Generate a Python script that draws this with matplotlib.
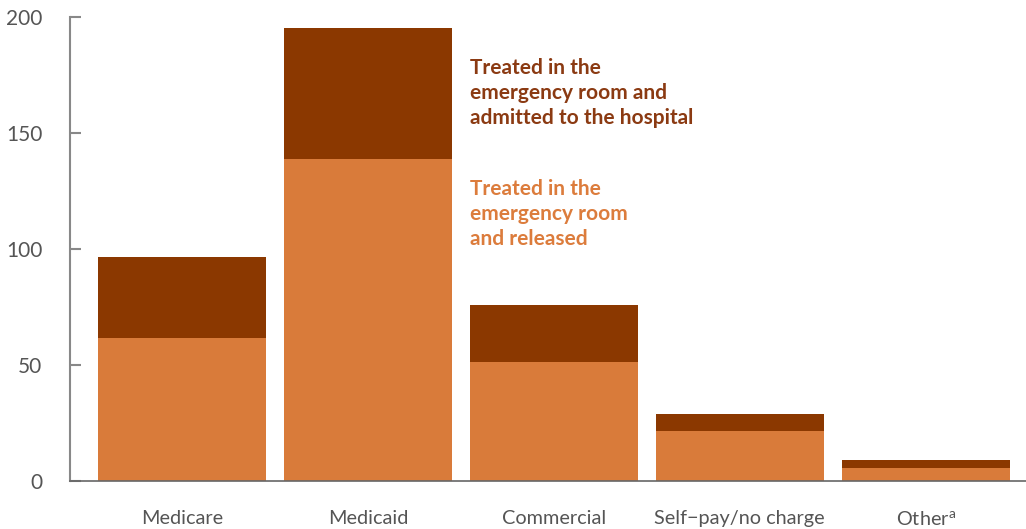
import matplotlib.pyplot as plt
import numpy as np

categories = ['Medicare', 'Medicaid', 'Commercial', 'Self\u2212pay/no charge', 'Other$^{\\mathregular{a}}$']
released = [61.6, 138.8, 51.3, 21.6, 5.6]
admitted = [35.0, 56.5, 24.6, 7.3, 3.5]

dark = '#8B3800'
light = '#D97B3A'
gray = '#555555'

plt.rcParams['font.family'] = ['Lato', 'DejaVu Sans']

fig = plt.figure(figsize=(10.26, 5.29), dpi=100)
ax = fig.add_axes([70/1026, 1 - 481/529, 1 - 70/1026, (481 - 17)/529])

x = np.arange(len(categories))
ax.bar(x, released, width=0.903, color=light)
ax.bar(x, admitted, width=0.903, bottom=released, color=dark)

ax.set_xlim(-0.602, 4.54)
ax.set_ylim(0, 200)
ax.set_yticks([0, 50, 100, 150, 200])
ax.set_xticks(x)
ax.set_xticklabels(categories)

for s in ['top', 'right']:
    ax.spines[s].set_visible(False)
ax.spines['left'].set_color('#888888')
ax.spines['left'].set_linewidth(1.5)
ax.spines['bottom'].set_color('#666666')
ax.spines['bottom'].set_linewidth(1.2)

ax.tick_params(axis='y', direction='in', length=8, width=1.5, color='#888888',
               labelsize=15, labelcolor=gray, pad=20)
ax.tick_params(axis='x', length=0, labelsize=14.3, labelcolor=gray, pad=21)

ax.text(470/1026, 1 - 58/529, 'Treated in the\nemergency room and\nadmitted to the hospital',
        transform=fig.transFigure, color='#8B3A12', fontsize=15, fontweight='bold',
        va='top', ha='left', linespacing=1.3)
ax.text(470/1026, 1 - 179/529, 'Treated in the\nemergency room\nand released',
        transform=fig.transFigure, color='#DC7C3C', fontsize=15, fontweight='bold',
        va='top', ha='left', linespacing=1.3)

fig.savefig('out.png', dpi=100)
